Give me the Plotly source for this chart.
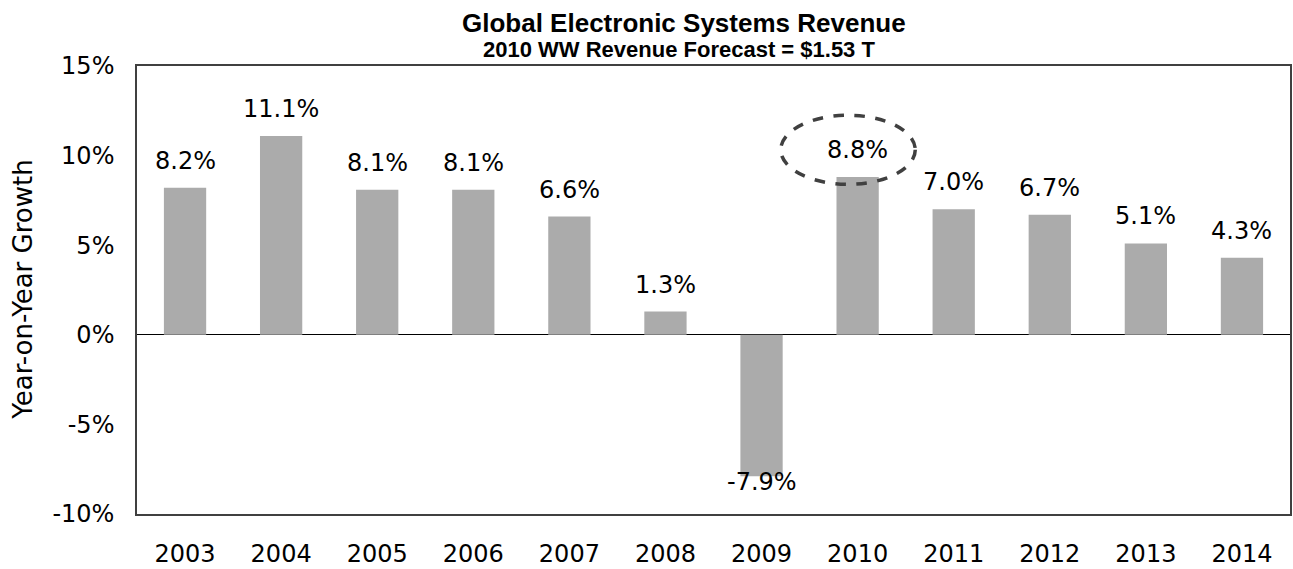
import plotly.graph_objects as go

years = ["2003", "2004", "2005", "2006", "2007", "2008", "2009", "2010", "2011", "2012", "2013", "2014"]
growth = [8.2, 11.1, 8.1, 8.1, 6.6, 1.3, -7.9, 8.8, 7.0, 6.7, 5.1, 4.3]
ytick_vals = [-10, -5, 0, 5, 10, 15]
ytick_text = ["-10%", "-5%", "0%", "5%", "10%", "15%"]
title_main = "Global Electronic Systems Revenue"
title_sub = "2010 WW Revenue Forecast = $1.53 T"
highlight_year = "2010"

L, R, T, B = 137, 1, 66, 54
W, H = 1293, 569
PW = W - L - R
PH = H - T - B


def px_x(xp):
    return (xp - L) / PW


def px_y(yp):
    return (H - B - yp) / PH


fig = go.Figure()
fig.add_trace(go.Bar(
    x=list(range(len(years))), y=growth,
    marker=dict(color="#ababab", line=dict(width=0)),
    width=0.44, hoverinfo="skip",
))

for i, v in enumerate(growth):
    fig.add_annotation(
        x=i, y=v, xref="x", yref="y",
        text=f"{v:.1f}%", showarrow=False,
        yanchor="middle", yshift=27 if v >= 0 else -6,
        font=dict(family="DejaVu Sans", size=24, color="#000000"),
    )

# dashed ellipse highlighting the 2010 label
hi = years.index(highlight_year)
hv = growth[hi]
fig.add_shape(
    type="circle", xref="x", yref="y",
    x0=hi - 0.80, x1=hi + 0.60, y0=hv - 0.4, y1=hv + 3.45,
    line=dict(color="#404040", width=3.5, dash="dash"),
    fillcolor="rgba(0,0,0,0)", layer="above",
)

fig.add_annotation(
    x=px_x(685), y=px_y(23), xref="paper", yref="paper",
    text=f"<b>{title_main}</b>", showarrow=False, yanchor="middle",
    font=dict(family="Liberation Sans", size=26, color="#000000"),
)
fig.add_annotation(
    x=px_x(680), y=px_y(49), xref="paper", yref="paper",
    text=f"<b>{title_sub}</b>", showarrow=False, yanchor="middle",
    font=dict(family="Liberation Sans", size=22, color="#000000"),
)
fig.add_annotation(
    x=px_x(22), y=px_y(290), xref="paper", yref="paper",
    text="Year-on-Year Growth", textangle=-90, showarrow=False,
    xanchor="center", yanchor="middle",
    font=dict(family="DejaVu Sans", size=26, color="#000000"),
)

fig.update_layout(
    width=W, height=H,
    margin=dict(l=L, r=R, t=T, b=B, pad=0),
    paper_bgcolor="white", plot_bgcolor="white",
    showlegend=False,
)
fig.update_xaxes(
    tickmode="array", tickvals=list(range(len(years))), ticktext=years,
    range=[-0.5, len(years) - 0.5],
    showgrid=False, zeroline=False,
    showline=True, mirror=True, linecolor="#404040", linewidth=1.5,
    ticks="outside", ticklen=17, tickcolor="rgba(0,0,0,0)",
    tickfont=dict(family="DejaVu Sans", size=24, color="#000000"),
)
fig.update_yaxes(
    tickmode="array", tickvals=ytick_vals, ticktext=ytick_text,
    range=[-10, 15],
    showgrid=False, zeroline=True, zerolinecolor="#000000", zerolinewidth=1,
    showline=True, mirror=True, linecolor="#404040", linewidth=1.5,
    ticks="outside", ticklen=16, tickcolor="rgba(0,0,0,0)",
    tickfont=dict(family="DejaVu Sans", size=24, color="#000000"),
)

fig.write_html(
    "out.html",
    config={"displayModeBar": False},
    post_script="document.body.style.margin='0';document.body.style.overflow='hidden';",
)
